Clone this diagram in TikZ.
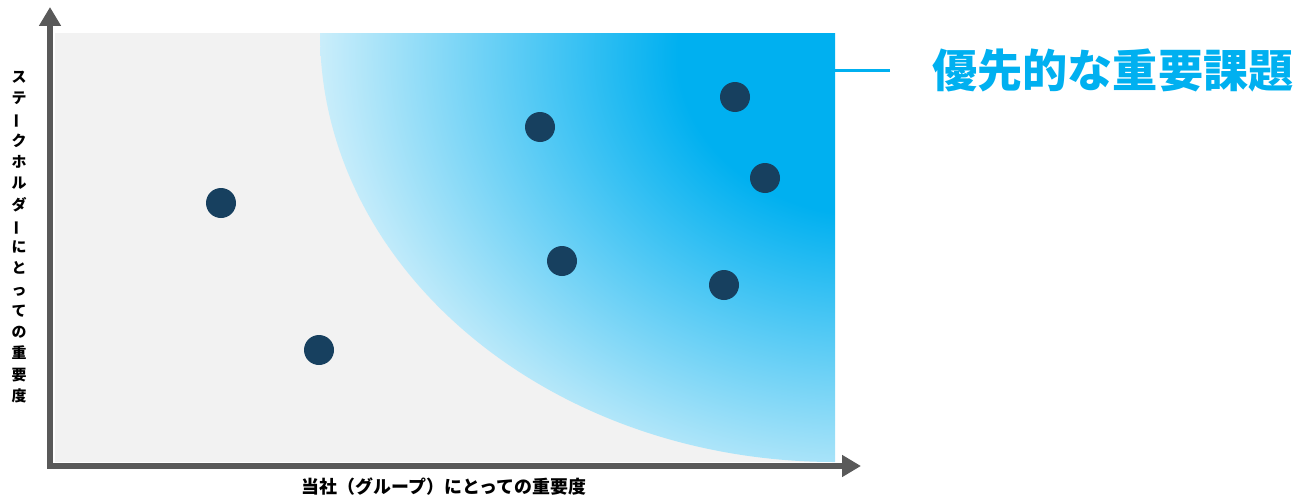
\documentclass[tikz,border=0pt]{standalone}
\usepackage{fontspec}
\newfontfamily\jpfont{Noto Sans CJK JP}
\usetikzlibrary{arrows.meta}
\definecolor{axisgray}{HTML}{595959}
\definecolor{panelgray}{HTML}{F2F2F2}
\definecolor{prioblue}{HTML}{00B0F0}
\definecolor{priolight}{HTML}{E6F6FC}
\definecolor{dotnavy}{HTML}{17405F}
\pgfdeclareradialshading{prioshade}{\pgfpoint{0bp}{0bp}}{color(0bp)=(prioblue); color(8bp)=(prioblue); color(25bp)=(priolight); color(50bp)=(priolight)}
\newcommand{\tatebar}{\rotatebox[origin=c]{90}{ー}}
\tikzset{
  issue/.style={circle, fill=dotnavy, minimum size=0.6cm, inner sep=0pt},
  axisline/.style={draw=axisgray, line width=0.12cm, {Triangle[length=0.38cm,width=0.42cm]}-{Triangle[length=0.38cm,width=0.42cm]}},
  axislabel/.style={font=\jpfont\bfseries\fontsize{10.2}{12}\selectfont},
}
\begin{document}
\begin{tikzpicture}[x=0.02cm,y=0.02cm]
    \useasboundingbox (0,0) rectangle (1300,495);
    \fill[panelgray] (55,33) rectangle (835,462);
    % area of priority issues
    \begin{scope}
      \clip (320,462) arc[start angle=180, end angle=270, x radius=515, y radius=429] -- (835,462) -- cycle;
      \shade[shading=prioshade] (870,440) ellipse [x radius=600, y radius=500];
    \end{scope}
    \coordinate (ytip) at (50,488);
    \coordinate (xtip) at (861,29);
    \draw[axisline] (ytip) |- (xtip);
    \node[axislabel] (xlab) at (444,8) {当社（グループ）にとっての重要度};
    \node[align=center, font=\jpfont\bfseries\fontsize{8.5}{12.1}\selectfont] (ylab) at (19,258)
      {ス\\テ\\\tatebar\\ク\\ホ\\ル\\ダ\\\tatebar\\に\\と\\っ\\て\\の\\重\\要\\度};
    % issues
    \node[issue] (i1) at (221,292) {};
    \node[issue] (i2) at (319,145) {};
    \node[issue] (i3) at (540,368) {};
    \node[issue] (i4) at (562,234) {};
    \node[issue] (i5) at (735,398) {};
    \node[issue] (i6) at (765,317) {};
    \node[issue] (i7) at (724,210) {};
    \node[anchor=west, inner sep=0pt, text=prioblue, font=\jpfont\bfseries\fontsize{25.7}{30}\selectfont] (title) at (932,425) {優先的な重要課題};
    \coordinate (edge) at (835,425);
    \draw[prioblue, line width=0.06cm, shorten >=0.84cm] (edge) -- (title.west);
  \end{tikzpicture}
\end{document}
